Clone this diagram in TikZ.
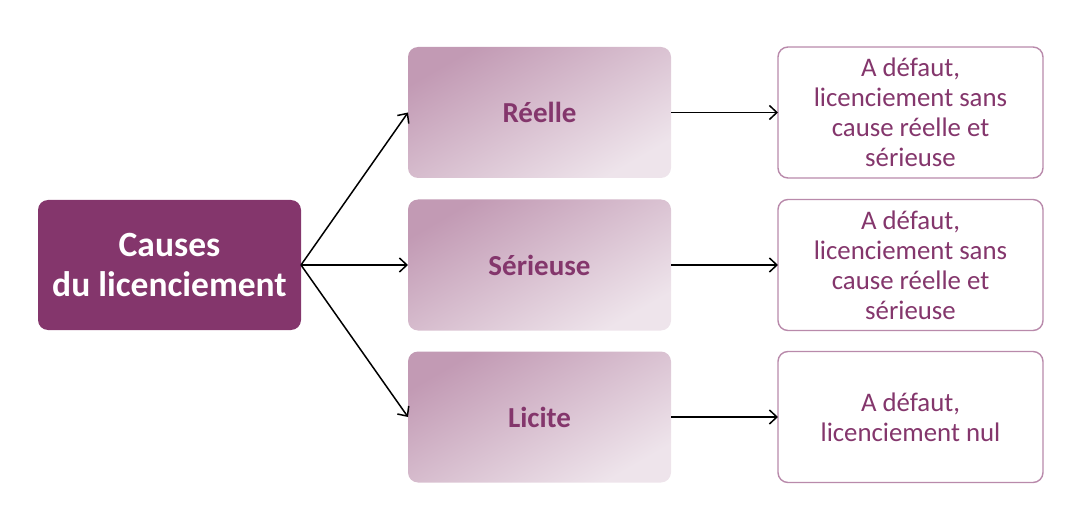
\documentclass[tikz,border=0pt]{standalone}
\usepackage{fontspec}
\setmainfont{Carlito}
\usetikzlibrary{arrows.meta}
\definecolor{darkplum}{HTML}{84366C}
\definecolor{plumtop}{HTML}{C29AB4}
\definecolor{plumbot}{HTML}{EEE4EB}
\definecolor{plumline}{HTML}{B98AAB}
\begin{document}
\begin{tikzpicture}[x=1pt,y=-1pt,
  causebox/.style={rounded corners=10pt, fill=darkplum, text=white, minimum width=263pt, minimum height=130pt, inner sep=0pt, outer sep=0pt, align=center, font=\fontsize{35.5}{40}\selectfont\bfseries},
  midbox/.style={rounded corners=10pt, top color=plumtop, bottom color=plumbot, shading angle=30, text=darkplum, minimum width=263pt, minimum height=131pt, inner sep=0pt, outer sep=0pt, align=center, font=\fontsize{29}{34}\selectfont\bfseries},
  resbox/.style={rounded corners=10pt, draw=plumline, line width=1.4pt, fill=white, text=darkplum, minimum width=265pt, minimum height=131pt, inner sep=0pt, outer sep=0pt, align=center, font=\fontsize{26.8}{30}\selectfont},
  arr/.style={line width=1.5pt, -{Straight Barb[length=7.5pt,width=14pt,line width=1.5pt]}}
]
\useasboundingbox (0,0) rectangle (1080,524);
\node[causebox] (cause) at (169.5,265) {Causes\\du licenciement};
\node[midbox] (reel) at (539.5,112.5) {Réelle};
\node[midbox] (ser) at (539.5,265) {Sérieuse};
\node[midbox] (lic) at (539.5,417) {Licite};
\node[resbox] (r1) at (910.5,112.5) {A défaut,\\licenciement sans\\cause réelle et\\sérieuse};
\node[resbox] (r2) at (910.5,265) {A défaut,\\licenciement sans\\cause réelle et\\sérieuse};
\node[resbox] (r3) at (910.5,417) {A défaut,\\licenciement nul};
\draw[arr] (cause.east) -- (reel.west);
\draw[arr] (cause.east) -- (ser.west);
\draw[arr] (cause.east) -- (lic.west);
\draw[arr] (reel.east) -- (r1.west);
\draw[arr] (ser.east) -- (r2.west);
\draw[arr] (lic.east) -- (r3.west);
\end{tikzpicture}
\end{document}
